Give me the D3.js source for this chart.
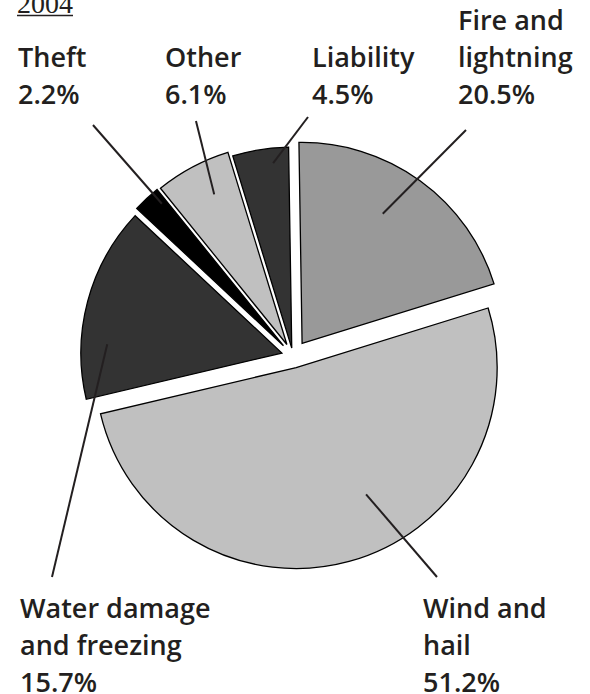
<!DOCTYPE html>
<html>
<head>
<meta charset="utf-8">
<script src="https://cdn.jsdelivr.net/npm/d3@7"></script>
<style>
  html, body { margin: 0; padding: 0; background: #fff; }
  svg { display: block; }
  .lbl { font-family: "Open Sans", Roboto, "Liberation Sans", sans-serif; font-weight: 600; font-size: 27px; fill: #231f20; }
  .year { font-family: "Liberation Serif", "DejaVu Serif", serif; font-size: 28px; fill: #231f20; }
</style>
</head>
<body>
<svg id="chart" width="590" height="694"></svg>
<script>
// Homeowners insurance losses by cause, 2004 (percent of total)
const categories = ["Fire and lightning", "Wind and hail", "Water damage and freezing", "Theft", "Other", "Liability"];
const shares = [20.5, 51.2, 15.7, 2.2, 6.1, 4.5];
const labelLines = [["Fire and", "lightning"], ["Wind and", "hail"], ["Water damage", "and freezing"], ["Theft"], ["Other"], ["Liability"]];
const yearLabel = "2004";

// Styling and layout
const fills = ["#999999", "#c0c0c0", "#333333", "#000000", "#c0c0c0", "#333333"];
const explode = [15.5, 12, 11.5, 14, 13, 8];           // px each slice is pulled out
const labelPos = [[458, 30], [423, 618], [20, 618], [18, 67], [165, 67], [312, 67]];
const leaderStart = [[466, 130], [437, 577], [52, 577], [93, 125], [196, 121], [308, 117]];
const leaderAnchor = [[0.445, 0.76], [0.426, 0.72], [0.287, 0.87], [0.8, 0.93], [0.6, 0.83], [0.70, 0.925]];
const lineStep = 37;
const cx = 293, cy = 356, R = 201;
const rot = -0.9 * Math.PI / 180;

const svg = d3.select("#chart");

const pie = d3.pie().sort(null).value(d => d)
  .startAngle(rot).endAngle(2 * Math.PI + rot);
const arcs = pie(shares);
const arc = d3.arc().innerRadius(0).outerRadius(R);

// slice apex after explosion
function apex(a, i) {
  const mid = (a.startAngle + a.endAngle) / 2;
  return [cx + explode[i] * Math.sin(mid), cy - explode[i] * Math.cos(mid)];
}

svg.append("g").selectAll("path")
  .data(arcs)
  .join("path")
  .attr("transform", (a, i) => { const p = apex(a, i); return `translate(${p[0]},${p[1]})`; })
  .attr("d", arc)
  .attr("fill", (a, i) => fills[i])
  .attr("stroke", "#000")
  .attr("stroke-width", 1.3)
  .attr("stroke-linejoin", "miter");

// leader lines from labels into slices
svg.append("g").selectAll("line")
  .data(arcs)
  .join("line")
  .each(function (a, i) {
    const p = apex(a, i);
    const [t, f] = leaderAnchor[i];
    const th = a.startAngle + t * (a.endAngle - a.startAngle);
    d3.select(this)
      .attr("x1", leaderStart[i][0]).attr("y1", leaderStart[i][1])
      .attr("x2", p[0] + f * R * Math.sin(th))
      .attr("y2", p[1] - f * R * Math.cos(th));
  })
  .attr("stroke", "#231f20")
  .attr("stroke-width", 2);

// category labels with percentage
const fmt = v => d3.format(".1f")(v) + "%";
const lab = svg.append("g").selectAll("text")
  .data(arcs)
  .join("text")
  .attr("class", "lbl")
  .attr("x", (a, i) => labelPos[i][0])
  .attr("y", (a, i) => labelPos[i][1]);
lab.each(function (a, i) {
  const t = d3.select(this);
  const lines = labelLines[i].concat([fmt(shares[i])]);
  lines.forEach((s, k) => {
    t.append("tspan").attr("x", labelPos[i][0]).attr("y", labelPos[i][1] + k * lineStep).text(s);
  });
});

// year heading, underlined
const yr = svg.append("text").attr("class", "year").attr("x", 17).attr("y", 13).text(yearLabel);
const w = yr.node().getComputedTextLength();
svg.append("line").attr("x1", 17).attr("x2", 17 + w).attr("y1", 15.5).attr("y2", 15.5)
  .attr("stroke", "#231f20").attr("stroke-width", 1.3);
</script>
</body>
</html>
